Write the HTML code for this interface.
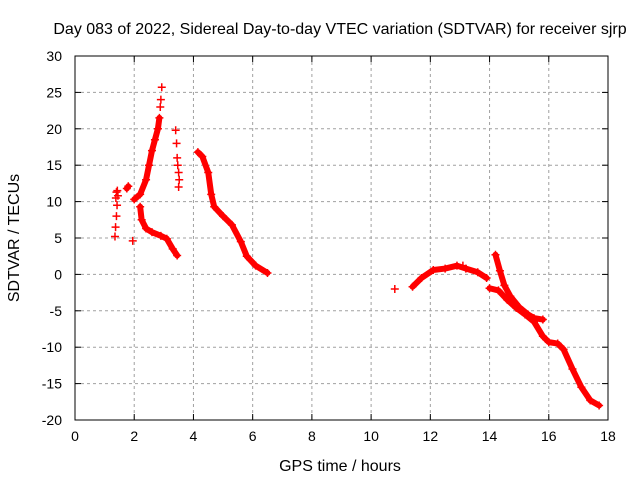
<!DOCTYPE html>
<html><head><meta charset="utf-8"><style>
body{margin:0;background:#fff}
svg{display:block;font-family:"Liberation Sans",sans-serif}
</style></head><body>
<svg id="chart" width="640" height="480">
<text x="340" y="34" font-size="16" text-anchor="middle">Day 083 of 2022, Sidereal Day-to-day VTEC variation (SDTVAR) for receiver sjrp</text>
<text x="340" y="471" font-size="16" text-anchor="middle">GPS time / hours</text>
<text transform="translate(19,238) rotate(-90)" font-size="16" text-anchor="middle">SDTVAR / TECUs</text>
<g id="grid"></g>
<g id="ticks"></g>
<g id="marks"></g>
<rect x="75" y="56" width="533" height="364" fill="none" stroke="#000"/>
</svg>
<script>
const xTicks=[0,2,4,6,8,10,12,14,16,18];
const yTicks=[-20,-15,-10,-5,0,5,10,15,20,25,30];
const isolated=[[1.35,5.2],[1.37,6.5],[1.4,8],[1.42,9.5],[1.38,10.5],[1.4,11.3],[1.43,11.5],[1.45,10.8],[1.95,4.6],[10.8,-2],[3.4,19.8],[3.43,18],[3.45,16],[3.47,15],[3.5,14],[3.52,13],[3.5,12],[2.93,25.7],[2.9,24],[2.88,23],[13.1,1.2]];
const seriesB=[[1.75,11.8],[1.8,12.1]];
const seriesC=[[2.0,10.3],[2.2,11],[2.4,13],[2.5,15],[2.6,17],[2.7,18.5],[2.8,20],[2.85,21.5]];
const seriesD=[[2.2,9.3],[2.25,7.5],[2.4,6.3],[2.6,5.8],[2.9,5.3],[3.1,4.9],[3.3,3.5],[3.45,2.6]];
const seriesF=[[4.15,16.8],[4.3,16.2],[4.5,14],[4.6,11],[4.7,9.3],[5.0,8],[5.3,6.8],[5.6,4.5],[5.8,2.5],[6.1,1.2],[6.5,0.2]];
const seriesG=[[11.4,-1.7],[11.7,-0.5],[12.1,0.6],[12.5,0.8],[12.9,1.2],[13.2,0.8],[13.6,0.3],[13.9,-0.5]];
const seriesH=[[14.2,2.7],[14.35,0.5],[14.5,-1.5],[14.7,-3],[15,-4.5],[15.3,-5.5],[15.5,-6],[15.8,-6.2]];
const seriesI=[[14,-1.9],[14.3,-2.2],[14.6,-3.5],[14.9,-4.6],[15.2,-5.5],[15.5,-6.5],[15.8,-8.5],[16,-9.3],[16.3,-9.5],[16.5,-10.3],[16.8,-13],[17.1,-15.5],[17.4,-17.3],[17.7,-18]];
const X=h=>75+h*(533/18);
const Y=v=>56+(30-v)*(364/50);
const NS="http://www.w3.org/2000/svg";
function mk(tag,attrs,parent){const e=document.createElementNS(NS,tag);for(const k in attrs)e.setAttribute(k,attrs[k]);parent.appendChild(e);return e;}
const grid=document.getElementById('grid'),ticks=document.getElementById('ticks'),marks=document.getElementById('marks');
xTicks.forEach(t=>{
  if(t>0&&t<18){const g=mk('line',{x1:X(t),x2:X(t),y1:56,y2:420,stroke:'#a0a0a0','stroke-dasharray':'3,3'},grid);
  
  }
  mk('line',{x1:X(t),x2:X(t),y1:420,y2:414,stroke:'#000'},ticks);
  mk('line',{x1:X(t),x2:X(t),y1:56,y2:62,stroke:'#000'},ticks);
  const l=mk('text',{x:X(t),y:441,'font-size':14,'text-anchor':'middle'},ticks);l.textContent=t;
  
  
});
yTicks.forEach(t=>{
  if(t>-20&&t<30){const g=mk('line',{x1:75,x2:608,y1:Y(t),y2:Y(t),stroke:'#a0a0a0','stroke-dasharray':'3,3'},grid);
  
  }
  mk('line',{x1:75,x2:81,y1:Y(t),y2:Y(t),stroke:'#000'},ticks);
  mk('line',{x1:602,x2:608,y1:Y(t),y2:Y(t),stroke:'#000'},ticks);
  const l=mk('text',{x:62,y:Y(t)+5,'font-size':14,'text-anchor':'end'},ticks);l.textContent=t;
  
  
});
function plus(h,v){const p=mk('path',{d:`M${X(h)-4} ${Y(v)}h8M${X(h)} ${Y(v)-4}v8`,stroke:'#f00','stroke-width':1.5},marks);
  
  }
function band(arr){
  const d=arr.map((p,i)=>(i?'L':'M')+X(p[0])+' '+Y(p[1])).join('');
  const pl=mk('path',{d:d,stroke:'#f00','stroke-width':6,fill:'none','stroke-linejoin':'round','stroke-linecap':'round'},marks);
  
  
  arr.forEach(p=>plus(p[0],p[1]));
}
[seriesB,seriesC,seriesD,seriesF,seriesG,seriesH,seriesI].forEach(band);
isolated.forEach(p=>plus(p[0],p[1]));
</script>
</body></html>
